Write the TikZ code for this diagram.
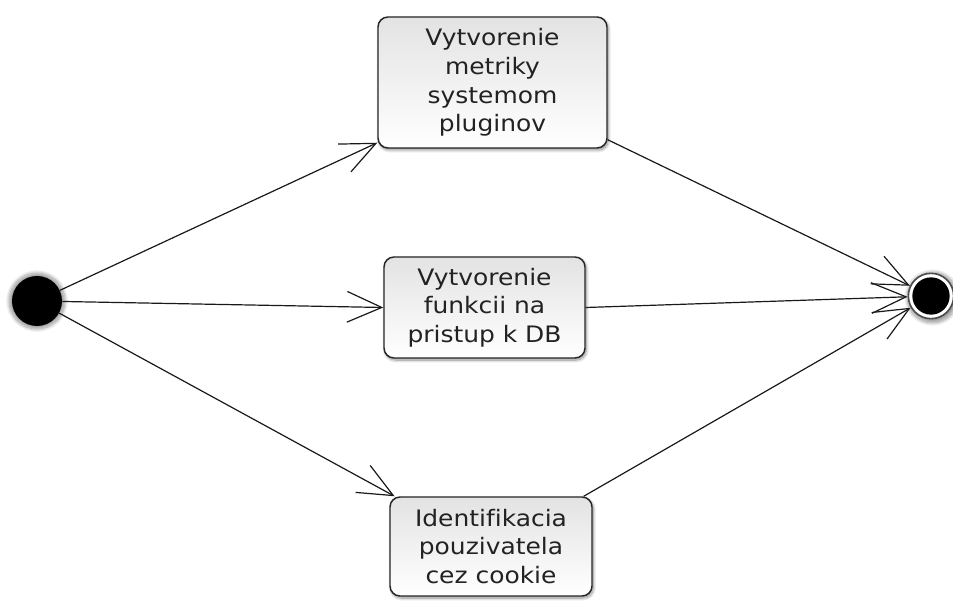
\documentclass[tikz,border=0pt]{standalone}
\usepackage{fontspec}
\setmainfont[FakeStretch=1.1,RawFeature=-liga]{DejaVu Sans}
\usetikzlibrary{arrows.meta,shadows.blur}
\definecolor{txt}{HTML}{222222}
\tikzset{
  act/.style={draw=black!85, line width=1.1pt, rounded corners=7.5pt,
    top color=black!11, bottom color=white,
    blur shadow={shadow blur steps=12, shadow xshift=1pt, shadow yshift=-1.5pt, shadow opacity=45, shadow blur extra rounding=3pt},
    align=center, text=txt, inner sep=0pt,
    font=\fontsize{17pt}{21.5pt}\selectfont},
  flow/.style={draw=black!90, line width=0.9pt, -{Straight Barb[length=26pt,width=23pt,line width=0.9pt]}},
}
\begin{document}
\begin{tikzpicture}[x=0.75pt,y=-0.75pt]
\useasboundingbox (0,0) rectangle (953,602);
\node[circle, fill=black, minimum size=37.5pt, inner sep=0pt,
  blur shadow={shadow blur steps=12, shadow xshift=0pt, shadow yshift=0pt, shadow opacity=40, shadow scale=1.12}] (start) at (37,301) {};
\node[circle, draw=black!70, fill=white, line width=1.2pt, minimum size=34pt, inner sep=0pt,
  blur shadow={shadow blur steps=12, shadow xshift=1pt, shadow yshift=-1pt, shadow opacity=40, shadow scale=1.12}] (end) at (931,296) {};
\node[circle, fill=black, minimum size=28pt, inner sep=0pt] (endin) at (end.center) {};
\node[act, minimum width=171.75pt, minimum height=98.25pt] (b1) at (492.5,82.5) {Vytvorenie\\metriky\\systemom\\pluginov};
\node[act, minimum width=150.75pt, minimum height=75.75pt] (b2) at (484.5,307.5) {Vytvorenie\\funkcii na\\pristup k DB};
\node[act, minimum width=151.5pt, minimum height=74.25pt] (b3) at (491,546.5) {Identifikacia\\pouzivatela\\cez cookie};
\draw[flow] (start) -- ([yshift=4.5pt]b1.south west);
\draw[flow] (start) -- (b2.west);
\draw[flow] (start) -- ([xshift=4pt]b3.north west);
\draw[flow] ([yshift=6.75pt]b1.south east) -- (end);
\draw[flow] (b2.east) -- (end);
\draw[flow] ([xshift=-6.75pt]b3.north east) -- (end);
\end{tikzpicture}
\end{document}
